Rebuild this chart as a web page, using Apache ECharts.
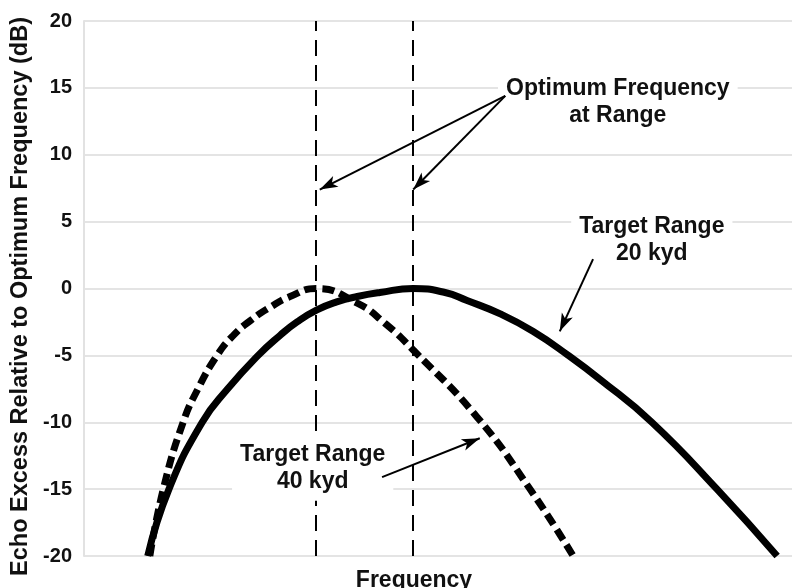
<!DOCTYPE html>
<html>
<head>
<meta charset="utf-8">
<title>Echo Excess vs Frequency</title>
<script src="https://cdn.jsdelivr.net/npm/echarts@6/dist/echarts.min.js"></script>
<style>
  html, body { margin: 0; padding: 0; background: #fff; }
  #chart { width: 796px; height: 588px; }
</style>
</head>
<body>
<div id="chart"></div>
<script>
// frequency axis is unitless (0..100)
const freq20kyd = [9.0, 12.0, 16.7, 20.3, 24.6, 27.7, 30.1, 32.9, 35.7, 38.6, 41.8, 46.5, 51.0, 54.1, 58.8, 63.4, 68.4, 72.9, 80.2, 89.4, 97.9];
const echo20kyd = [-20, -15, -10, -7.5, -5, -3.5, -2.5, -1.6, -1.0, -0.6, -0.3, 0, -0.3, -0.9, -1.9, -3.2, -5, -6.8, -10, -15, -20];

const freq40kyd = [9.3, 11.2, 14.0, 16.1, 18.8, 21.1, 23.5, 26.3, 29.1, 32.8, 38.6, 42.5, 46.5, 55.5, 63.0, 69.1];
const echo40kyd = [-20, -15, -10, -7.5, -5, -3.5, -2.4, -1.4, -0.6, 0, -1.1, -2.6, -4.6, -9.6, -15, -20];

// optimum frequency at each range (40 kyd, 20 kyd)
const optimumFreq = [32.8, 46.5];

const yTicks = [-20, -15, -10, -5, 0, 5, 10, 15, 20];

// annotations: label centre [x, y], arrows from -> to
const labelOptimum = { text: 'Optimum Frequency\nat Range', at: [75.4, 13.9] };
const label20 = { text: 'Target Range\n20 kyd', at: [80.2, 3.6] };
const label40 = { text: 'Target Range\n40 kyd', at: [32.3, -13.4] };
const arrows = [
  [[59.5, 14.4], [33.3, 7.4]],
  [[59.5, 14.4], [46.5, 7.4]],
  [[71.9, 2.2], [67.2, -3.2]],
  [[42.1, -14.1], [55.9, -11.2]]
];

function pairs(xs, ys) {
  let out = [];
  xs.forEach((x, i) => out.push([x, ys[i]]));
  return out;
}

const labelStyle = {
  show: true,
  position: 'inside',
  color: '#111',
  fontFamily: 'Liberation Sans',
  fontWeight: 'bold',
  fontSize: 23,
  lineHeight: 27,
  align: 'center',
  backgroundColor: '#fff',
  padding: [6, 8]
};

function textPoint(l) {
  return { coord: l.at, value: 0, label: { formatter: l.text } };
}

let chart = echarts.init(document.getElementById('chart'));
chart.setOption({
  animation: false,
  grid: { left: 84, right: 4, top: 21, bottom: 32, outerBoundsMode: 'none', containLabel: false },
  xAxis: {
    type: 'value',
    min: 0,
    max: 100,
    name: 'Frequency',
    nameLocation: 'middle',
    nameGap: 13,
    nameTextStyle: {
      color: '#111', fontFamily: 'Liberation Sans', fontWeight: 'bold', fontSize: 23,
      padding: [0, 48, 0, 0]
    },
    axisLine: { show: false },
    axisTick: { show: false },
    axisLabel: { show: false },
    splitLine: { show: false }
  },
  yAxis: {
    type: 'value',
    min: yTicks[0],
    max: yTicks[yTicks.length - 1],
    interval: 5,
    name: 'Echo Excess Relative to Optimum Frequency (dB)',
    nameLocation: 'middle',
    nameGap: 51,
    nameTextStyle: {
      color: '#111', fontFamily: 'Liberation Sans', fontWeight: 'bold', fontSize: 23.5,
      padding: [0, 16, 0, 0]
    },
    axisLine: { show: true, lineStyle: { color: '#e2e2e2', width: 2 } },
    axisTick: { show: false },
    axisLabel: {
      color: '#111', fontFamily: 'Liberation Sans', fontWeight: 'bold', fontSize: 20, margin: 12
    },
    splitLine: { lineStyle: { color: '#e4e4e4', width: 2 } }
  },
  series: [
    {
      name: 'Target Range 20 kyd',
      type: 'line',
      smooth: 0.5,
      showSymbol: false,
      symbol: 'none',
      lineStyle: { color: '#000', width: 7 },
      data: pairs(freq20kyd, echo20kyd),
      z: 3
    },
    {
      name: 'Target Range 40 kyd',
      type: 'line',
      smooth: 0.5,
      showSymbol: false,
      symbol: 'none',
      lineStyle: { color: '#000', width: 7, type: [12, 6] },
      data: pairs(freq40kyd, echo40kyd),
      z: 3
    },
    {
      name: 'optimum',
      type: 'line',
      data: [],
      z: 2,
      markLine: {
        silent: true,
        z: 2,
        symbol: ['none', 'none'],
        label: { show: false },
        lineStyle: { color: '#000', width: 2, type: [16, 9] },
        data: optimumFreq.map(f => ({ xAxis: f }))
      }
    },
    {
      name: 'labels',
      type: 'line',
      data: [],
      z: 4,
      markPoint: {
        silent: true,
        z: 4,
        symbol: 'rect',
        symbolSize: 1,
        itemStyle: { color: 'rgba(0,0,0,0)' },
        label: labelStyle,
        data: [textPoint(labelOptimum), textPoint(label20), textPoint(label40)]
      }
    },
    {
      name: 'arrows',
      type: 'line',
      data: [],
      z: 8,
      markLine: {
        silent: true,
        z: 8,
        symbol: ['none', 'arrow'],
        label: { show: false },
        lineStyle: { color: '#000', width: 2, type: 'solid' },
        data: arrows.map(a => [
          { coord: a[0], symbol: 'none' },
          { coord: a[1], symbol: 'arrow', symbolSize: [9, 18] }
        ])
      }
    }
  ]
});
</script>
</body>
</html>
